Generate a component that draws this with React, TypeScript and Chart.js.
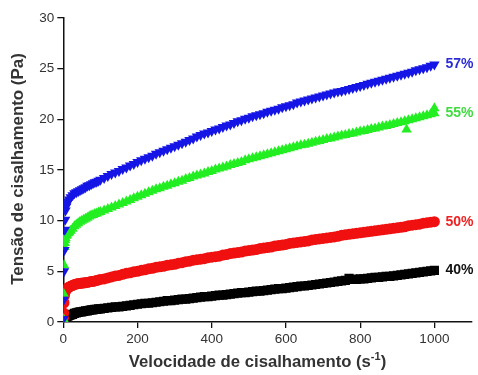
import React, { useEffect, useRef } from "react";
import { Chart, registerables } from "chart.js";

Chart.register(...registerables);

// Shear rate (s^-1)
const shearRate = [
  0.5, 1, 2, 3, 4, 5, 6, 8, 10, 13, 16, 20, 25, 30, 35, 40, 45, 50, 55, 60, 65, 70, 75, 80, 85, 90, 95,
  100, 110, 120, 130, 140, 150, 160, 170, 180, 190,
  200, 210, 220, 230, 240, 250, 260, 270, 280, 290,
  300, 310, 320, 330, 340, 350, 360, 370, 380, 390,
  400, 410, 420, 430, 440, 450, 460, 470, 480, 490,
  500, 510, 520, 530, 540, 550, 560, 570, 580, 590,
  600, 610, 620, 630, 640, 650, 660, 670, 680, 690,
  700, 710, 720, 730, 740, 750, 760, 770, 780, 790,
  800, 810, 820, 830, 840, 850, 860, 870, 880, 890,
  900, 910, 920, 930, 940, 950, 960, 970, 980, 990,
  1000,
];

const stress57 = [
  0.3, 2.2, 5.0, 7.1, 9.1, 10.1, 11.0, 11.4, 11.7, 11.9, 12.1, 12.3, 12.5, 12.7, 12.8, 12.9, 13.0, 13.1, 13.2, 13.3, 13.45, 13.5, 13.6, 13.7, 13.8, 13.85, 13.95,
  14.05, 14.2, 14.4, 14.6, 14.75, 14.9, 15.1, 15.25, 15.45, 15.6,
  15.8, 15.95, 16.1, 16.25, 16.4, 16.6, 16.75, 16.9, 17.05, 17.2,
  17.35, 17.5, 17.65, 17.8, 17.95, 18.1, 18.3, 18.45, 18.6, 18.7,
  18.85, 19.0, 19.1, 19.25, 19.4, 19.5, 19.65, 19.8, 19.9, 20.05,
  20.15, 20.3, 20.4, 20.5, 20.6, 20.75, 20.85, 20.95, 21.05, 21.2,
  21.3, 21.4, 21.5, 21.65, 21.75, 21.85, 21.95, 22.05, 22.15, 22.25,
  22.35, 22.45, 22.55, 22.65, 22.75, 22.8, 22.9, 23.0, 23.1, 23.2,
  23.3, 23.4, 23.5, 23.6, 23.7, 23.8, 23.9, 24.0, 24.1, 24.2,
  24.3, 24.4, 24.5, 24.6, 24.7, 24.85, 24.95, 25.05, 25.15, 25.3,
  25.4,
];

const stress55 = [
  0.3, 2.8, 5.6, 7.4, 7.8, 8.1, 8.3, 8.5, 8.6, 8.75, 8.85, 9.0, 9.2, 9.45, 9.6, 9.75, 9.9, 10.0, 10.1, 10.2, 10.3, 10.4, 10.5, 10.55, 10.65, 10.7, 10.8,
  10.85, 11.0, 11.15, 11.3, 11.45, 11.6, 11.75, 11.9, 12.05, 12.2,
  12.35, 12.5, 12.65, 12.8, 12.95, 13.1, 13.2, 13.35, 13.45, 13.6,
  13.7, 13.85, 13.95, 14.1, 14.2, 14.35, 14.45, 14.55, 14.65, 14.8,
  14.9, 15.05, 15.15, 15.25, 15.35, 15.5, 15.6, 15.7, 15.8, 15.95,
  16.05, 16.15, 16.25, 16.35, 16.45, 16.55, 16.65, 16.75, 16.85, 16.95,
  17.05, 17.15, 17.25, 17.35, 17.45, 17.5, 17.6, 17.7, 17.8, 17.85,
  17.95, 18.05, 18.1, 18.2, 18.3, 18.4, 18.45, 18.55, 18.6, 18.7,
  18.8, 18.85, 18.95, 19.05, 19.1, 19.2, 19.3, 19.35, 19.45, 19.55,
  19.65, 19.7, 19.8, 19.9, 20.0, 20.1, 20.2, 20.3, 20.4, 20.5,
  20.6,
];
// isolated 55% readings
const extraRate55 = [925, 1000];
const extraStress55 = [19.0, 21.1];

const stress50 = [
  0.4, 0.9, 1.9, 2.6, 2.9, 3.0, 3.1, 3.2, 3.3, 3.4, 3.45, 3.55, 3.6, 3.7, 3.75, 3.8, 3.8, 3.85, 3.85, 3.9, 3.9, 3.95, 4.0, 4.0, 4.05, 4.1, 4.15,
  4.2, 4.25, 4.35, 4.45, 4.55, 4.6, 4.7, 4.8, 4.85, 4.95,
  5.0, 5.1, 5.15, 5.25, 5.3, 5.4, 5.45, 5.5, 5.6, 5.65,
  5.7, 5.8, 5.85, 5.95, 6.0, 6.1, 6.15, 6.2, 6.25, 6.35,
  6.4, 6.45, 6.5, 6.6, 6.65, 6.75, 6.8, 6.85, 6.9, 7.0,
  7.05, 7.1, 7.15, 7.25, 7.3, 7.35, 7.4, 7.5, 7.55, 7.6,
  7.65, 7.75, 7.8, 7.85, 7.9, 7.95, 8.0, 8.1, 8.15, 8.2,
  8.25, 8.3, 8.35, 8.4, 8.45, 8.55, 8.6, 8.65, 8.7, 8.75,
  8.8, 8.85, 8.9, 8.95, 9.0, 9.05, 9.1, 9.15, 9.2, 9.25,
  9.3, 9.35, 9.4, 9.5, 9.55, 9.6, 9.65, 9.75, 9.8, 9.85,
  9.9,
];

const stress40 = [
  0.1, 0.15, 0.2, 0.3, 0.35, 0.4, 0.45, 0.5, 0.55, 0.6, 0.65, 0.7, 0.75, 0.85, 0.9, 0.95, 1.0, 1.0, 1.05, 1.1, 1.1, 1.15, 1.2, 1.2, 1.25, 1.25, 1.3,
  1.3, 1.35, 1.4, 1.45, 1.5, 1.5, 1.55, 1.6, 1.65, 1.7,
  1.75, 1.8, 1.85, 1.85, 1.9, 1.95, 2.0, 2.05, 2.1, 2.1,
  2.15, 2.2, 2.25, 2.25, 2.3, 2.35, 2.4, 2.45, 2.5, 2.5,
  2.55, 2.6, 2.65, 2.65, 2.7, 2.75, 2.8, 2.85, 2.9, 2.9,
  2.95, 3.0, 3.05, 3.05, 3.1, 3.15, 3.2, 3.25, 3.3, 3.3,
  3.35, 3.4, 3.45, 3.5, 3.55, 3.55, 3.6, 3.65, 3.7, 3.75,
  3.8, 3.85, 3.9, 3.95, 4.0, 4.05, 4.1, 4.3, 4.2, 4.2,
  4.25, 4.25, 4.3, 4.35, 4.4, 4.4, 4.45, 4.5, 4.5, 4.55,
  4.6, 4.65, 4.7, 4.75, 4.8, 4.85, 4.9, 4.95, 5.0, 5.05,
  5.1,
];

const seriesLabels = ["57%", "55%", "50%", "40%"];
const xTicks = [0, 200, 400, 600, 800, 1000];
const yTicks = [0, 5, 10, 15, 20, 25, 30];

const toPts = (xs: number[], ys: number[]) => xs.map((x, i) => ({ x, y: ys[i] }));

export default function App() {
  const ref = useRef<HTMLCanvasElement>(null);

  useEffect(() => {
    document.body.style.margin = "0";
    const canvas = ref.current!;
    const axisFont = "'Liberation Sans', Arial, sans-serif";

    const labelPlugin = {
      id: "customText",
      afterDraw(chart: any) {
        const ctx = chart.ctx;
        const xs = chart.scales.x;
        const ys = chart.scales.y;
        ctx.save();
        const colors = ["#2b2bd6", "#3fdc3f", "#ee2222", "#111111"];
        const lastVals = [
          stress57[stress57.length - 1],
          stress55[stress55.length - 1],
          stress50[stress50.length - 1],
          stress40[stress40.length - 1],
        ];
        ctx.font = `bold 14px ${axisFont}`;
        ctx.textAlign = "left";
        ctx.textBaseline = "middle";
        seriesLabels.forEach((l, i) => {
          ctx.fillStyle = colors[i];
          ctx.fillText(l, xs.getPixelForValue(1000) + 11, ys.getPixelForValue(lastVals[i]));
        });
        // y title
        ctx.fillStyle = "#333";
        ctx.save();
        ctx.translate(18.5, 169);
        ctx.rotate(-Math.PI / 2);
        ctx.font = `bold 16.9px ${axisFont}`;
        ctx.textAlign = "center";
        ctx.textBaseline = "middle";
        ctx.fillText("Tensão de cisalhamento (Pa)", 0, 0);
        ctx.restore();
        // x title with superscript
        const mainFont = `bold 16.7px ${axisFont}`;
        const supFont = `bold 11px ${axisFont}`;
        const p1 = "Velocidade de cisalhamento (s";
        const sup = "-1";
        const p3 = ")";
        ctx.font = mainFont;
        const w1 = ctx.measureText(p1).width;
        const w3 = ctx.measureText(p3).width;
        ctx.font = supFont;
        const w2 = ctx.measureText(sup).width;
        const total = w1 + w2 + w3;
        let x0 = 257.5 - total / 2;
        const base = 367;
        ctx.textAlign = "left";
        ctx.textBaseline = "alphabetic";
        ctx.font = mainFont;
        ctx.fillText(p1, x0, base);
        x0 += w1;
        ctx.font = supFont;
        ctx.fillText(sup, x0, base - 7);
        x0 += w2;
        ctx.font = mainFont;
        ctx.fillText(p3, x0, base);
        ctx.restore();
      },
    };

    const chart = new Chart(canvas, {
      type: "scatter",
      data: {
        datasets: [
          {
            label: seriesLabels[0],
            data: toPts(shearRate, stress57),
            pointStyle: "triangle",
            rotation: 180,
            pointRadius: 6,
            backgroundColor: "#1515e6",
            borderColor: "#1515e6",
            borderWidth: 0,
          },
          {
            label: seriesLabels[1],
            data: [...toPts(shearRate, stress55), ...toPts(extraRate55, extraStress55)],
            pointStyle: "triangle",
            pointRadius: 6,
            backgroundColor: "#22ee22",
            borderColor: "#22ee22",
            borderWidth: 0,
          },
          {
            label: seriesLabels[2],
            data: toPts(shearRate, stress50),
            pointStyle: "circle",
            pointRadius: 5.5,
            backgroundColor: "#f01010",
            borderColor: "#f01010",
            borderWidth: 0,
          },
          {
            label: seriesLabels[3],
            data: toPts(shearRate, stress40),
            pointStyle: "rect",
            pointRadius: 6.5,
            backgroundColor: "#000000",
            borderColor: "#000000",
            borderWidth: 0,
          },
        ],
      },
      options: {
        responsive: false,
        animation: false,
        events: [],
        layout: { padding: { left: 0, right: 3, top: 18, bottom: 0 } },
        plugins: { legend: { display: false }, tooltip: { enabled: false } },
        scales: {
          x: {
            type: "linear",
            min: 0,
            max: 1100,
            afterBuildTicks: (s: any) => {
              s.ticks = xTicks.map((v) => ({ value: v }));
            },
            afterFit: (s: any) => {
              s.height = 53;
            },
            grid: { drawOnChartArea: false, drawTicks: true, tickLength: 6, color: "#111", lineWidth: 1.3 },
            border: { display: true, color: "#111", width: 1.5 },
            ticks: {
              color: "#333",
              font: { family: axisFont, size: 13.5 },
              padding: 3,
              maxRotation: 0,
              callback: (v: any) => String(v),
            },
          },
          y: {
            type: "linear",
            min: 0,
            max: 30,
            afterBuildTicks: (s: any) => {
              s.ticks = yTicks.map((v) => ({ value: v }));
            },
            afterFit: (s: any) => {
              s.width = 63.3;
            },
            grid: { drawOnChartArea: false, drawTicks: true, tickLength: 6, color: "#111", lineWidth: 1.3 },
            border: { display: true, color: "#111", width: 1.5 },
            ticks: {
              color: "#333",
              font: { family: axisFont, size: 13.5 },
              padding: 3,
              callback: (v: any) => String(v),
            },
          },
        },
      },
      plugins: [labelPlugin],
    });
    return () => chart.destroy();
  }, []);

  return (
    <div style={{ position: "absolute", left: 0, top: 0, width: 478, height: 375, background: "#fff" }}>
      <canvas ref={ref} width={478} height={375} />
    </div>
  );
}
